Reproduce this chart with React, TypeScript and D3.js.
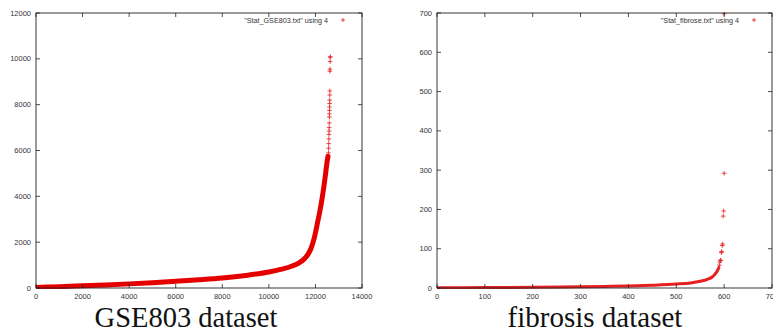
import React from 'react';
import * as d3 from 'd3';

// ---------- GSE803 panel data ----------
const gseTicksX = [0, 2000, 4000, 6000, 8000, 10000, 12000, 14000];
const gseTicksY = [0, 2000, 4000, 6000, 8000, 10000, 12000];
const gseCurveRank = [0, 500, 1000, 2000, 3000, 4000, 5000, 6000, 7000, 8000, 9000, 10000, 10500, 11000, 11300, 11500, 11700, 11800, 11900, 12000, 12100, 12200, 12300, 12400, 12450, 12500, 12540];
const gseCurveValue = [20, 40, 60, 95, 135, 180, 230, 290, 360, 440, 550, 700, 810, 960, 1100, 1250, 1500, 1700, 2000, 2400, 2900, 3400, 4000, 4700, 5100, 5500, 5750];
const gseOutlierRank = [12560, 12565, 12570, 12575, 12580, 12585, 12590, 12595, 12600, 12602, 12605, 12608, 12610, 12612, 12615, 12618, 12620, 12625, 12630, 12635, 12640];
const gseOutlierValue = [5900, 6100, 6300, 6500, 6700, 6850, 7000, 7200, 7460, 7600, 7750, 7900, 8050, 8200, 8420, 8600, 9460, 9550, 9880, 10080, 10080];

// ---------- fibrosis panel data ----------
const fibTicksX = [0, 100, 200, 300, 400, 500, 600, 700];
const fibTicksY = [0, 100, 200, 300, 400, 500, 600, 700];
const fibCurveRank = [0, 100, 200, 300, 350, 400, 450, 500, 530, 550, 565, 575, 580, 585, 589];
const fibCurveValue = [0.5, 1, 2, 3, 4, 5, 7, 10, 13, 17, 22, 28, 34, 42, 52];
const fibOutlierRank = [590, 591, 592, 593, 594, 595, 596, 597, 598, 599, 600, 600];
const fibOutlierValue = [58, 66, 70, 71, 90, 93, 108, 112, 183, 196, 292, 698];

type PanelProps = {
  left: number; right: number; top: number; bottom: number;
  xMax: number; yMax: number;
  ticksX: number[]; ticksY: number[];
  curveRank: number[]; curveValue: number[];
  outRank: number[]; outValue: number[];
  lineWidth: number; lineColor: string;
  legend: string; legendRight: number;
  title: string; titleX: number; titleSize: number;
};

function Panel(p: PanelProps) {
  const x = d3.scaleLinear().domain([0, p.xMax]).range([p.left, p.right]);
  const y = d3.scaleLinear().domain([0, p.yMax]).range([p.bottom, p.top]);
  const pts: [number, number][] = p.curveRank.map((r, i) => [r, p.curveValue[i]]);
  const line = d3.line<[number, number]>().x(d => x(d[0])).y(d => y(d[1])).curve(d3.curveMonotoneX);
  const tl = 4;
  const font = 'Liberation Sans, Arial, sans-serif';
  const plus = (cx: number, cy: number, k: string | number, s = 2.3) => (
    <g key={k} stroke="#e41a1c" strokeWidth={0.8}>
      <line x1={cx - s} x2={cx + s} y1={cy} y2={cy} />
      <line x1={cx} x2={cx} y1={cy - s} y2={cy + s} />
    </g>
  );
  return (
    <g>
      <defs>
        <clipPath id={'clip' + p.left}>
          <rect x={p.left} y={p.top - 1} width={p.right - p.left} height={p.bottom - p.top + 2} />
        </clipPath>
      </defs>
      <g clipPath={`url(#clip${p.left})`}>
        <path d={line(pts) || ''} fill="none" stroke={p.lineColor} strokeWidth={p.lineWidth} strokeLinecap="round" />
        {p.outRank.map((r, i) => plus(x(r), y(p.outValue[i]), i))}
      </g>
      <rect x={p.left} y={p.top} width={p.right - p.left} height={p.bottom - p.top} fill="none" stroke="#222" strokeWidth={0.9} />
      {p.ticksX.map(t => (
        <g key={'x' + t}>
          <line x1={x(t)} x2={x(t)} y1={p.bottom} y2={p.bottom - tl} stroke="#222" strokeWidth={0.8} />
          <line x1={x(t)} x2={x(t)} y1={p.top} y2={p.top + tl} stroke="#222" strokeWidth={0.8} />
          <text x={x(t)} y={p.bottom + 11} fontSize={7.5} fontFamily={font} textAnchor="middle" fill="#333">{t}</text>
        </g>
      ))}
      {p.ticksY.map(t => (
        <g key={'y' + t}>
          <line x1={p.left} x2={p.left + tl} y1={y(t)} y2={y(t)} stroke="#222" strokeWidth={0.8} />
          <line x1={p.right} x2={p.right - tl} y1={y(t)} y2={y(t)} stroke="#222" strokeWidth={0.8} />
          <text x={p.left - 5} y={y(t) + 2.6} fontSize={7.5} fontFamily={font} textAnchor="end" fill="#333">{t}</text>
        </g>
      ))}
      <text x={p.legendRight} y={p.top + 9.5} fontSize={7.2} fontFamily={font} textAnchor="end" fill="#333">{p.legend}</text>
      {plus(p.legendRight + 15, p.top + 7, 'leg', 2)}
      <text x={p.titleX} y={327} fontSize={p.titleSize} fontFamily="'Liberation Serif', 'DejaVu Serif', serif" textAnchor="middle" fill="#111">{p.title}</text>
    </g>
  );
}

export default function App() {
  return (
    <svg width={773} height={336} style={{ position: 'absolute', left: 0, top: 0, background: '#fff' }}>
      <rect x={0} y={0} width={773} height={336} fill="#fff" />
      <Panel left={36} right={362} top={13} bottom={288} xMax={14000} yMax={12000}
        ticksX={gseTicksX} ticksY={gseTicksY}
        curveRank={gseCurveRank} curveValue={gseCurveValue}
        outRank={gseOutlierRank} outValue={gseOutlierValue}
        lineWidth={5} lineColor="#e50000"
        legend={'"Stat_GSE803.txt" using 4'} legendRight={328}
        title="GSE803 dataset" titleX={186} titleSize={28.5} />
      <Panel left={437} right={772} top={13} bottom={288} xMax={700} yMax={700}
        ticksX={fibTicksX} ticksY={fibTicksY}
        curveRank={fibCurveRank} curveValue={fibCurveValue}
        outRank={fibOutlierRank} outValue={fibOutlierValue}
        lineWidth={3} lineColor="#e62020"
        legend={'"Stat_fibrose.txt" using 4'} legendRight={739}
        title="fibrosis dataset" titleX={595} titleSize={29} />
    </svg>
  );
}
